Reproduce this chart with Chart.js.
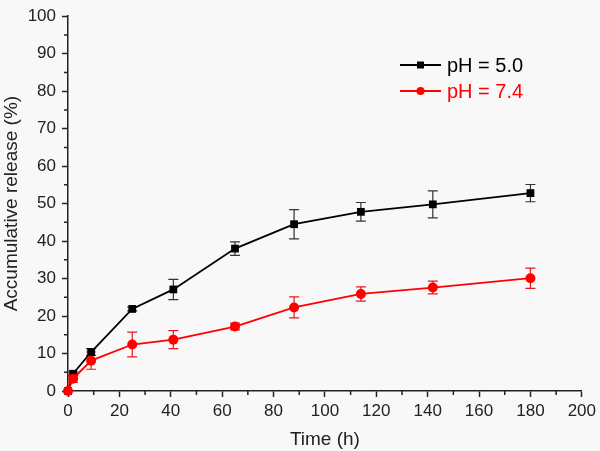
<!DOCTYPE html>
<html>
<head>
<meta charset="utf-8">
<script src="https://cdn.jsdelivr.net/npm/chart.js@4"></script>
<style>
  body { margin: 0; background: #f8f8f8; }
  canvas { display: block; }
</style>
</head>
<body>
<canvas id="release-chart" width="600" height="451"></canvas>
<script>
'use strict';
// sampling times (h)
const times = [0, 2, 9, 25, 41, 65, 88, 114, 142, 180];
// pH 5.0 release (%) and error
const ph50 = [0, 4.6, 10.4, 21.9, 27.1, 38.0, 44.5, 47.8, 49.8, 52.8];
const ph50Err = [0, 0.5, 0.9, 0.5, 2.7, 1.8, 3.9, 2.5, 3.6, 2.3];
// pH 7.4 release (%) and error
const ph74 = [0, 3.3, 8.1, 12.4, 13.7, 17.2, 22.3, 25.9, 27.6, 30.1];
const ph74Err = [0, 1.0, 2.3, 3.3, 2.4, 0.9, 2.8, 1.9, 1.7, 2.7];

const fontFamily = '"Liberation Sans", Arial, sans-serif';

function toPoints(xs, ys) {
  return xs.map((x, i) => ({ x: x, y: ys[i] }));
}

// error bars, drawn under the markers
const errorBars = {
  id: 'errorBars',
  beforeDatasetsDraw(chart) {
    const ctx = chart.ctx;
    const xScale = chart.scales.x;
    const yScale = chart.scales.y;
    chart.data.datasets.forEach(ds => {
      ctx.save();
      ctx.strokeStyle = ds.errColor;
      ctx.lineWidth = 1.2;
      ds.data.forEach((p, i) => {
        const e = ds.errors[i];
        if (!e) return;
        const px = xScale.getPixelForValue(p.x);
        const top = yScale.getPixelForValue(p.y + e);
        const bot = yScale.getPixelForValue(p.y - e);
        ctx.beginPath();
        ctx.moveTo(px, top);
        ctx.lineTo(px, bot);
        ctx.moveTo(px - 5, top);
        ctx.lineTo(px + 5, top);
        ctx.moveTo(px - 5, bot);
        ctx.lineTo(px + 5, bot);
        ctx.stroke();
      });
      ctx.restore();
    });
  }
};

// minor ticks halfway between major ones
const minorTicks = {
  id: 'minorTicks',
  afterDraw(chart) {
    const ctx = chart.ctx;
    const xScale = chart.scales.x;
    const yScale = chart.scales.y;
    const area = chart.chartArea;
    ctx.save();
    ctx.strokeStyle = '#222';
    ctx.lineWidth = 1.5;
    ctx.beginPath();
    for (let v = 10; v < 200; v += 20) {
      const px = xScale.getPixelForValue(v);
      ctx.moveTo(px, area.bottom);
      ctx.lineTo(px, area.bottom + 4);
    }
    for (let v = 5; v < 100; v += 10) {
      const py = yScale.getPixelForValue(v);
      ctx.moveTo(area.left, py);
      ctx.lineTo(area.left - 4, py);
    }
    ctx.stroke();
    ctx.restore();
  }
};

// legend: line - marker - line, then label in series colour
const lineLegend = {
  id: 'lineLegend',
  afterDraw(chart) {
    const ctx = chart.ctx;
    ctx.save();
    ctx.font = '20px ' + fontFamily;
    ctx.textBaseline = 'middle';
    chart.data.datasets.forEach((ds, i) => {
      const y = 65 + i * 26;
      ctx.strokeStyle = ds.borderColor;
      ctx.fillStyle = ds.borderColor;
      ctx.lineWidth = 1.8;
      ctx.beginPath();
      ctx.moveTo(400, y);
      ctx.lineTo(441, y);
      ctx.stroke();
      ctx.beginPath();
      if (ds.pointStyle === 'rect') {
        ctx.rect(417, y - 3.5, 7, 7);
      } else {
        ctx.arc(420.5, y, 4, 0, Math.PI * 2);
      }
      ctx.fill();
      ctx.fillText(ds.label, 447, y + 1);
    });
    ctx.restore();
  }
};

new Chart(document.getElementById('release-chart'), {
  type: 'line',
  data: {
    datasets: [{
      label: 'pH = 5.0',
      data: toPoints(times, ph50),
      errors: ph50Err,
      errColor: '#333',
      borderColor: '#000000',
      backgroundColor: '#000000',
      borderWidth: 1.8,
      pointStyle: 'rect',
      pointRadius: 5.5,
      pointBorderWidth: 0,
      order: 1,
      clip: false
    }, {
      label: 'pH = 7.4',
      data: toPoints(times, ph74),
      errors: ph74Err,
      errColor: '#e81818',
      borderColor: '#ff0000',
      backgroundColor: '#ff0000',
      borderWidth: 1.8,
      pointStyle: 'circle',
      pointRadius: 5,
      pointBorderWidth: 0,
      order: 0,
      clip: false
    }]
  },
  options: {
    responsive: false,
    animation: false,
    layout: { padding: { top: 8, right: 15, left: 0, bottom: 0 } },
    plugins: {
      legend: { display: false },
      tooltip: { enabled: false }
    },
    scales: {
      x: {
        type: 'linear',
        min: 0,
        max: 200,
        afterFit: scale => { scale.height = 60; },
        ticks: {
          stepSize: 20,
          padding: 4,
          color: '#222',
          font: { family: fontFamily, size: 17 }
        },
        grid: { drawOnChartArea: false, tickLength: 6, tickColor: '#222', tickWidth: 1.5 },
        border: { color: '#222', width: 1.5 },
        title: {
          display: true,
          text: 'Time (h)',
          color: '#222',
          padding: 0,
          font: { family: fontFamily, size: 19 }
        }
      },
      y: {
        min: 0,
        max: 100,
        afterFit: scale => { scale.width = 68; },
        ticks: {
          stepSize: 10,
          padding: 6,
          color: '#222',
          font: { family: fontFamily, size: 17 }
        },
        grid: { drawOnChartArea: false, tickLength: 6, tickColor: '#222', tickWidth: 1.5 },
        border: { color: '#222', width: 1.5 },
        title: {
          display: true,
          text: 'Accumulative release (%)',
          color: '#222',
          padding: 0,
          font: { family: fontFamily, size: 19 }
        }
      }
    }
  },
  plugins: [errorBars, minorTicks, lineLegend]
});
</script>
</body>
</html>
